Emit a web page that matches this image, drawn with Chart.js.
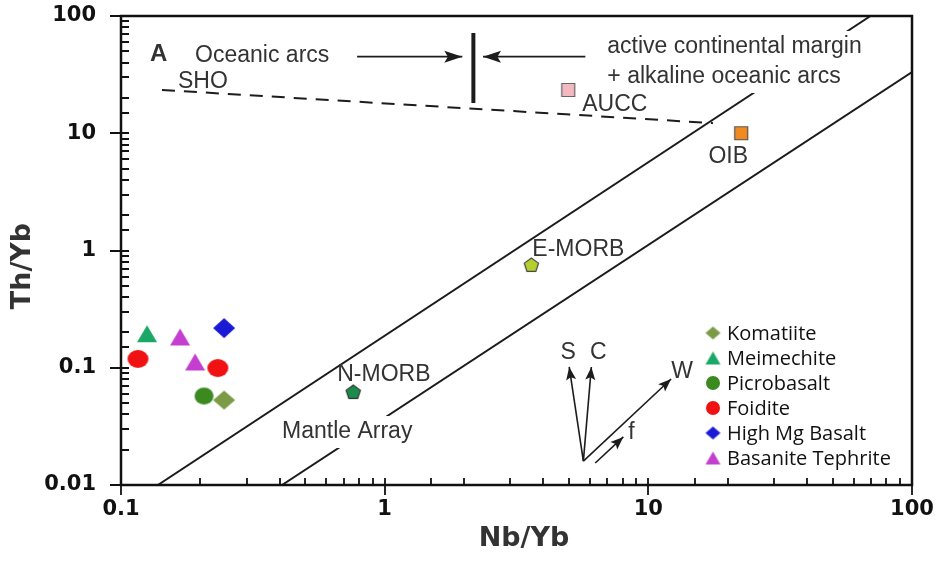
<!DOCTYPE html>
<html>
<head>
<meta charset="utf-8">
<title>Th/Yb vs Nb/Yb</title>
<script src="https://cdn.jsdelivr.net/npm/chart.js@4.4.1/dist/chart.umd.min.js"></script>
<style>
    html, body { margin: 0; padding: 0; background: #fff; }
    #wrap { width: 936px; height: 561px; }
</style>
</head>
<body>
<div id="wrap"><canvas id="chart" width="936" height="561"></canvas></div>
<script>
// --- Data ---
const groupNames = ['Komatiite', 'Meimechite', 'Picrobasalt', 'Foidite', 'High Mg Basalt', 'Basanite Tephrite'];
const komatiiteX = [0.246];
const komatiiteY = [0.053];
const meimechiteX = [0.1255];
const meimechiteY = [0.195];
const picrobasaltX = [0.2065];
const picrobasaltY = [0.0574];
const foiditeX = [0.116, 0.233];
const foiditeY = [0.119, 0.0995];
const highMgX = [0.246];
const highMgY = [0.218];
const basaniteX = [0.1675, 0.191];
const basaniteY = [0.183, 0.112];

const refNames = ['AUCC', 'OIB', 'E-MORB', 'N-MORB'];
const refX = [4.97, 22.5, 3.6, 0.76];
const refY = [23.4, 10.0, 0.752, 0.062];

// mantle array boundaries, SHO line, arc divide
const upperArrayX = [0.138, 69.6];
const upperArrayY = [0.01, 100];
const lowerArrayX = [0.408, 100];
const lowerArrayY = [0.01, 33.3];
const shoX = [0.143, 17.6];
const shoY = [23.4, 12.2];
const divideX = [2.17, 2.17];
const divideY = [18.1, 71.6];
const arcArrowX = [0.786, 1.97];
const arcArrowY = [45, 45];
const acmArrowX = [5.77, 2.36];
const acmArrowY = [45, 45];

// process vectors
const vectorNames = ['S', 'C', 'W', 'f'];
const vectorFromX = [5.67, 5.67, 5.67, 6.29];
const vectorFromY = [0.016, 0.016, 0.016, 0.0154];
const vectorToX = [5.01, 6.08, 12.2, 8.04];
const vectorToY = [0.1015, 0.1015, 0.0802, 0.0257];

const xTickLabels = ['0.1', '1', '10', '100'];
const yTickLabels = ['0.01', '0.1', '1', '10', '100'];

// --- Markers ---
function makeMarker(shape, fill, w, h, stroke) {
    const c = document.createElement('canvas');
    c.width = w + 2;
    c.height = h + 2;
    const g = c.getContext('2d');
    g.translate(1, 1);
    g.beginPath();
    if (shape === 'diamond') {
        g.moveTo(w / 2, 0); g.lineTo(w, h / 2); g.lineTo(w / 2, h); g.lineTo(0, h / 2);
    } else if (shape === 'triangle') {
        g.moveTo(w / 2, 0); g.lineTo(w, h); g.lineTo(0, h);
    } else if (shape === 'ellipse') {
        g.ellipse(w / 2, h / 2, w / 2, h / 2, 0, 0, Math.PI * 2);
    } else if (shape === 'square') {
        g.rect(0.5, 0.5, w - 1, h - 1);
    } else if (shape === 'pentagon') {
        for (let i = 0; i < 5; i++) {
            const a = -Math.PI / 2 + i * 2 * Math.PI / 5;
            const px = w / 2 + (w / 2) * Math.cos(a);
            const py = h * 0.53 + (h * 0.53) * Math.sin(a);
            if (i === 0) g.moveTo(px, py); else g.lineTo(px, py);
        }
    }
    g.closePath();
    g.fillStyle = fill;
    g.fill();
    if (stroke) {
        g.lineWidth = 1.2;
        g.strokeStyle = stroke;
        g.stroke();
    }
    return c;
}

const groupColors = ['#7b9b46', '#1aa866', '#3b8a20', '#f01212', '#1a1ad6', '#c43fd0'];
const groupShapes = ['diamond', 'triangle', 'ellipse', 'ellipse', 'diamond', 'triangle'];
const groupSizes = [[22, 19], [20, 17], [19, 17], [21, 18], [22, 20], [20, 17]];
const legendSizes = [[15, 13], [15, 13], [14, 14], [14, 14], [15, 13], [15, 13]];

const groupMarkers = groupColors.map((c, i) => makeMarker(groupShapes[i], c, groupSizes[i][0], groupSizes[i][1]));
const legendMarkers = groupColors.map((c, i) => makeMarker(groupShapes[i], c, legendSizes[i][0], legendSizes[i][1]));
const refMarkers = [
    makeMarker('square', '#f3b9c1', 14, 14, '#666'),
    makeMarker('square', '#f28a22', 14, 14, '#555'),
    makeMarker('pentagon', '#b5cf2e', 15, 14, '#444'),
    makeMarker('pentagon', '#1c8c4c', 15, 14, '#333')
];

function toPoints(xs, ys) {
    return xs.map((x, i) => ({ x: x, y: ys[i] }));
}

// --- Datasets ---
const groupSeries = [
    [komatiiteX, komatiiteY], [meimechiteX, meimechiteY], [picrobasaltX, picrobasaltY],
    [foiditeX, foiditeY], [highMgX, highMgY], [basaniteX, basaniteY]
];

const datasets = [];

groupSeries.forEach((s, i) => {
    datasets.push({
        label: groupNames[i],
        data: toPoints(s[0], s[1]),
        pointStyle: groupMarkers[i],
        pointRadius: 10,
        showLine: false
    });
});

datasets.push({
    label: 'reference',
    data: toPoints(refX, refY),
    pointStyle: refMarkers,
    pointRadius: 8,
    showLine: false
});

function lineSet(label, xs, ys, width, dash, head) {
    return {
        label: label,
        data: toPoints(xs, ys),
        showLine: true,
        borderColor: '#1c1c1c',
        borderWidth: width,
        borderDash: dash || [],
        pointRadius: 0,
        fill: false,
        arrowHead: head || null
    };
}

datasets.push(lineSet('upper array', upperArrayX, upperArrayY, 2));
datasets.push(lineSet('lower array', lowerArrayX, lowerArrayY, 2));
datasets.push(lineSet('SHO', shoX, shoY, 2, [13, 9]));
datasets.push(lineSet('divide', divideX, divideY, 4));
datasets.push(lineSet('arc arrow', arcArrowX, arcArrowY, 1.6, null, [18, 6]));
datasets.push(lineSet('acm arrow', acmArrowX, acmArrowY, 1.6, null, [18, 6]));
vectorNames.forEach((n, i) => {
    datasets.push(lineSet('vector ' + n, [vectorFromX[i], vectorToX[i]], [vectorFromY[i], vectorToY[i]], 1.6, null, [13, 5]));
});

// --- Annotations (data coordinates) ---
const notes = [
    { text: 'A', x: 0.139, y: 47.4, align: 'center', font: 'bold 24px "Liberation Sans"' },
    { text: 'Oceanic arcs', x: 0.191, y: 45.6, align: 'left' },
    { text: 'SHO', x: 0.1645, y: 27.4, align: 'left' },
    { text: 'active continental margin', x: 6.99, y: 54.4, align: 'left', bg: true },
    { text: '+ alkaline oceanic arcs', x: 6.99, y: 30.2, align: 'left', bg: true },
    { text: 'Mantle Array', x: 0.408, y: 0.0283, align: 'left', bg: true }
];
// label offsets for reference points, in pixels
const refLabelDx = [14, -13, 1, -16];
const refLabelDy = [15, 23, -15, -17];
const refLabelAlign = ['left', 'center', 'left', 'left'];
const vectorLabelDx = [-1, 7, 11, 8];
const vectorLabelDy = [-14, -14, -7, -4];

const textFont = '23px "Liberation Sans", Arial, sans-serif';
const textColor = '#333';

function isDecade(v) {
    const l = Math.log10(v);
    return Math.abs(l - Math.round(l)) < 1e-6;
}

// --- Plugin: annotations, arrowheads, frame, ticks, legend, titles ---
const decorPlugin = {
    id: 'decor',
    afterDatasetsDraw(chart) {
        const ctx = chart.ctx;
        const xs = chart.scales.x;
        const ys = chart.scales.y;
        const area = chart.chartArea;

        ctx.save();

        // arrowheads
        chart.data.datasets.forEach((ds, i) => {
            if (!ds.arrowHead) return;
            const pts = chart.getDatasetMeta(i).data;
            const a = pts[pts.length - 2], b = pts[pts.length - 1];
            const ang = Math.atan2(b.y - a.y, b.x - a.x);
            const len = ds.arrowHead[0], half = ds.arrowHead[1];
            ctx.save();
            ctx.translate(b.x, b.y);
            ctx.rotate(ang);
            ctx.beginPath();
            ctx.moveTo(0, 0);
            ctx.lineTo(-len, -half);
            ctx.lineTo(-len * 0.8, 0);
            ctx.lineTo(-len, half);
            ctx.closePath();
            ctx.fillStyle = '#1c1c1c';
            ctx.fill();
            ctx.restore();
        });

        // free text
        ctx.textBaseline = 'middle';
        notes.forEach(n => {
            const px = xs.getPixelForValue(n.x);
            const py = ys.getPixelForValue(n.y);
            ctx.font = n.font || textFont;
            ctx.textAlign = n.align;
            if (n.bg) {
                const w = ctx.measureText(n.text).width;
                ctx.fillStyle = '#fff';
                ctx.fillRect(px - 6, py - 16, w + 12, 32);
            }
            ctx.fillStyle = textColor;
            ctx.fillText(n.text, px, py);
        });

        // reference point labels
        const refMeta = chart.getDatasetMeta(groupNames.length);
        ctx.font = textFont;
        ctx.fillStyle = textColor;
        refNames.forEach((name, i) => {
            const p = refMeta.data[i];
            ctx.textAlign = refLabelAlign[i];
            ctx.fillText(name, p.x + refLabelDx[i], p.y + refLabelDy[i]);
        });

        // vector labels
        vectorNames.forEach((name, i) => {
            const px = xs.getPixelForValue(vectorToX[i]);
            const py = ys.getPixelForValue(vectorToY[i]);
            ctx.textAlign = 'center';
            ctx.fillText(name, px + vectorLabelDx[i], py + vectorLabelDy[i]);
        });

        // frame
        ctx.strokeStyle = '#111';
        ctx.lineWidth = 2.5;
        ctx.strokeRect(area.left, area.top, area.right - area.left, area.bottom - area.top);

        // ticks: majors cross the axis, minors point inward
        ctx.lineWidth = 1.8;
        ctx.beginPath();
        xs.ticks.forEach(t => {
            const px = Math.round(xs.getPixelForValue(t.value));
            const major = isDecade(t.value);
            ctx.moveTo(px, area.bottom + (major ? 10 : 0));
            ctx.lineTo(px, area.bottom - 7);
        });
        ys.ticks.forEach(t => {
            const py = Math.round(ys.getPixelForValue(t.value));
            const major = isDecade(t.value);
            ctx.moveTo(area.left - (major ? 11 : 0), py);
            ctx.lineTo(area.left + 8, py);
        });
        ctx.stroke();

        // legend
        const legX = 713, legY = 333, legStep = 25;
        ctx.font = '20px "Open Sans", sans-serif';
        ctx.textAlign = 'left';
        ctx.fillStyle = '#111';
        groupNames.forEach((name, i) => {
            const m = legendMarkers[i];
            const y = legY + i * legStep;
            ctx.drawImage(m, legX - m.width / 2, y - m.height / 2);
            ctx.fillText(name, legX + 14, y + 1);
        });

        // axis titles
        ctx.fillStyle = '#333';
        ctx.font = 'bold 27px "DejaVu Sans", sans-serif';
        ctx.textAlign = 'center';
        ctx.fillText('Nb/Yb', 524, 539);
        ctx.save();
        ctx.translate(23, 266);
        ctx.rotate(-Math.PI / 2);
        ctx.fillText('Th/Yb', 0, 0);
        ctx.restore();

        ctx.restore();
    }
};

// --- Chart ---
const tickFont = { family: '"DejaVu Sans", sans-serif', size: 21, weight: 'bold' };

new Chart(document.getElementById('chart'), {
    type: 'scatter',
    data: { datasets: datasets },
    options: {
        responsive: false,
        animation: false,
        layout: { padding: { top: 16, right: 24, left: 0, bottom: 0 } },
        plugins: {
            legend: { display: false },
            tooltip: { enabled: false }
        },
        scales: {
            x: {
                type: 'logarithmic',
                min: 0.1,
                max: 100,
                grid: { display: false, drawTicks: false },
                border: { display: false },
                ticks: {
                    autoSkip: false,
                    maxRotation: 0,
                    padding: 12,
                    color: '#111',
                    font: tickFont,
                    callback: v => isDecade(v) ? xTickLabels[Math.round(Math.log10(v)) + 1] : ''
                },
                afterFit: s => {
                    s.height = 76;
                    s.paddingLeft = 0;
                    s.paddingRight = 0;
                }
            },
            y: {
                type: 'logarithmic',
                min: 0.01,
                max: 100,
                grid: { display: false, drawTicks: false },
                border: { display: false },
                ticks: {
                    autoSkip: false,
                    padding: 25,
                    color: '#111',
                    font: tickFont,
                    callback: v => isDecade(v) ? yTickLabels[Math.round(Math.log10(v)) + 2] : ''
                },
                afterFit: s => {
                    s.width = 121;
                    s.paddingTop = 0;
                    s.paddingBottom = 0;
                }
            }
        }
    },
    plugins: [decorPlugin]
});
</script>
</body>
</html>
